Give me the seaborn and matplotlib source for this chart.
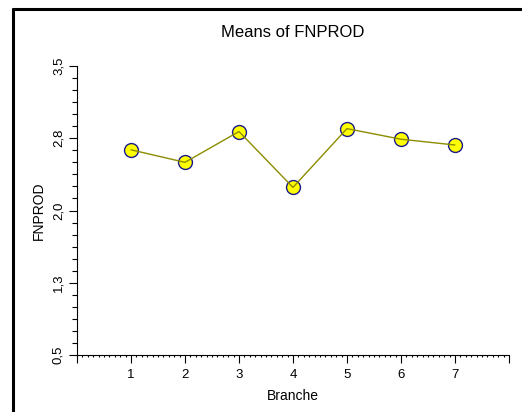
import numpy as np
import pandas as pd
import seaborn as sns
import matplotlib
matplotlib.use("Agg")
import matplotlib.pyplot as plt
from matplotlib.lines import Line2D
from matplotlib.ticker import MultipleLocator

sns.set_style("ticks")
plt.rcParams['font.family'] = ['Liberation Sans', 'DejaVu Sans']
plt.rcParams['text.color'] = 'black'
plt.rcParams['axes.labelcolor'] = 'black'

# data
branche = [1, 2, 3, 4, 5, 6, 7]
means = [2.63, 2.50, 2.82, 2.24, 2.85, 2.74, 2.68]
y_ticks = [0.5, 1.25, 2.0, 2.75, 3.5]
y_tick_labels = ["0,5", "1,3", "2,0", "2,8", "3,5"]
x_ticks = [0, 1, 2, 3, 4, 5, 6, 7, 8]
x_tick_labels = ["", "1", "2", "3", "4", "5", "6", "7", ""]

df = pd.DataFrame({"Branche": branche, "FNPROD": means})

fig = plt.figure(figsize=(5.22, 4.12), dpi=100)
ax = fig.add_axes([0.1475, 0.1383, 0.8275, 0.7015])

sns.scatterplot(data=df, x="Branche", y="FNPROD", ax=ax, s=100,
                color="#ffff00", edgecolor="#1a1a8c", linewidth=1.0, zorder=2)
sns.lineplot(data=df, x="Branche", y="FNPROD", ax=ax, color="#8c8c00",
             linewidth=1.0, zorder=3)

ax.set_xlim(0, 8)
ax.set_ylim(0.5, 3.5)
ax.set_xticks(x_ticks)
ax.set_xticklabels(x_tick_labels)
ax.set_yticks(y_ticks)
ax.set_yticklabels(y_tick_labels, rotation=90, va="center")
ax.xaxis.set_minor_locator(MultipleLocator(0.1))
ax.yaxis.set_minor_locator(MultipleLocator(0.125))
ax.tick_params(axis="both", which="major", length=6, width=0.8, labelsize=9.5,
               color="black", labelcolor="black")
ax.tick_params(axis="x", which="minor", length=1.5, width=0.8, color="black")
ax.tick_params(axis="y", which="minor", length=3.5, width=0.8, color="black")
ax.tick_params(axis="x", which="major", pad=4)
ax.tick_params(axis="y", which="major", pad=3)

sns.despine(ax=ax)
for side in ["left", "bottom"]:
    ax.spines[side].set_linewidth(0.8)
    ax.spines[side].set_color("black")

ax.set_xlabel("Branche", fontsize=10, labelpad=6, color="black")
ax.set_ylabel("FNPROD", fontsize=10, labelpad=5, color="black")
ax.set_title("Means of FNPROD", fontsize=12, pad=21, color="black")

# partial outer frame
fig.add_artist(Line2D([0.024, 0.024], [0.0, 0.978], transform=fig.transFigure,
                      color="black", linewidth=2.2))
fig.add_artist(Line2D([0.024, 1.0], [0.978, 0.978], transform=fig.transFigure,
                      color="black", linewidth=2.2))

fig.savefig("out.png", dpi=100)
